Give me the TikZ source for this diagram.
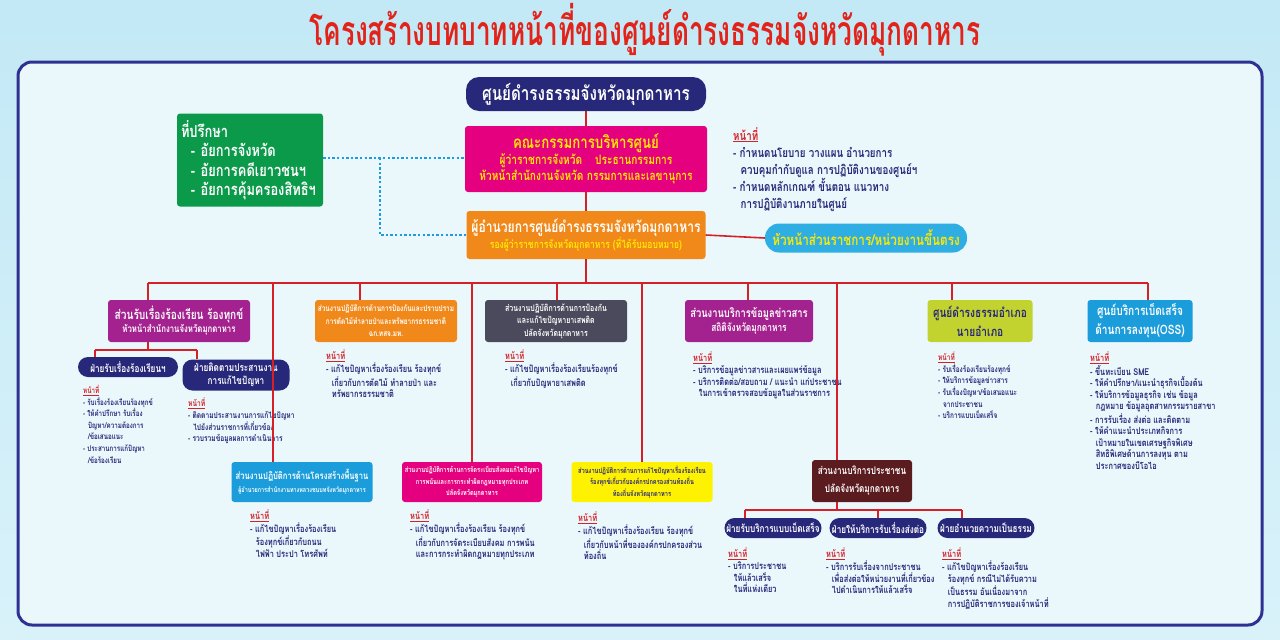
\documentclass[tikz,border=0pt]{standalone}
\usepackage{fontspec}
\setmainfont[Script=Thai,FakeStretch=0.78]{Loma}
\newfontfamily\titlefont[Script=Thai,FakeStretch=0.64]{Loma}
\usepackage{xcolor}
\usepackage{tikz}
\usetikzlibrary{positioning,calc}

\definecolor{navy}{HTML}{27287A}
\definecolor{framecol}{HTML}{2E3192}
\definecolor{lred}{HTML}{D62027}
\definecolor{titlered}{HTML}{E2231A}
\definecolor{lblue}{HTML}{1E9BE0}
\definecolor{mag}{HTML}{E4007F}
\definecolor{purp}{HTML}{A4228F}
\definecolor{orng}{HTML}{F0881A}
\definecolor{slate}{HTML}{4A4A5C}
\definecolor{lime}{HTML}{C2D22E}
\definecolor{oss}{HTML}{1B9DDB}
\definecolor{grn}{HTML}{0B9A4A}
\definecolor{maroon}{HTML}{5B1C20}
\definecolor{ylw}{HTML}{FFF200}
\definecolor{txtylw}{HTML}{FFE800}
\definecolor{cyanpill}{HTML}{2EAEE3}
\definecolor{bgtop}{HTML}{C3E9F6}
\definecolor{bgbot}{HTML}{D9F2FA}
\definecolor{inner}{HTML}{EAF8FC}

\newcommand{\dutyhead}{\textcolor{lred}{\underline{หน้าที่}}}
\newcommand{\ind}{\hspace*{0.6em}}
\newcommand{\fs}[2]{\fontsize{#1}{#2}\selectfont}

\tikzset{
  unit/.style={rounded corners=3pt, align=center, text=white, inner sep=1pt, font=\bfseries},
  pill/.style={rounded corners=10pt, fill=navy, align=center, text=white, inner sep=1pt, font=\bfseries\fs{10.5}{13}},
  duty/.style={anchor=north west, align=left, text=navy, inner sep=0pt, font=\bfseries\fs{9.5}{11.6}},
  titlestyle/.style={font=\titlefont\bfseries\fs{41}{46}},
  redline/.style={draw=lred, line width=1.6pt},
  dotline/.style={draw=lblue, line width=2.4pt, dash pattern=on 2.4pt off 2.2pt},
}

\begin{document}
\begin{tikzpicture}[x=1pt,y=-1pt]
    \useasboundingbox (0,0) rectangle (1280,640);
    \shade[top color=bgtop, bottom color=bgbot] (0,0) rectangle (1280,640);
    \draw[framecol, line width=3pt, fill=inner, rounded corners=14pt] (18,62) rectangle (1262,625);

    % title
    \node[titlestyle, text=titlered] (title) at (645,30) {โครงสร้างบทบาทหน้าที่ของศูนย์ดำรงธรรมจังหวัดมุกดาหาร};

    % top of the chart
    \node[unit, fill=navy, rounded corners=13pt, minimum width=240, minimum height=34, font=\bfseries\fs{19.5}{22}] (top) at (586,94) {ศูนย์ดำรงธรรมจังหวัดมุกดาหาร};
    \node[unit, fill=mag, text=txtylw, minimum width=242, minimum height=66, font=\bfseries\fs{13}{16}] (board) at (586,159)
        {{\fs{17}{19}คณะกรรมการบริหารศูนย์}\\ผู้ว่าราชการจังหวัด\quad ประธานกรรมการ\\หัวหน้าสำนักงานจังหวัด กรรมการและเลขานุการ};
    \node[unit, fill=orng, minimum width=239, minimum height=48, font=\bfseries\fs{11}{14}] (dir) at (586,235)
        {{\fs{15.5}{18}ผู้อำนวยการศูนย์ดำรงธรรมจังหวัดมุกดาหาร}\\\textcolor{txtylw}{รองผู้ว่าราชการจังหวัดมุกดาหาร (ที่ได้รับมอบหมาย)}};
    \node[unit, fill=grn, align=left, text width=138, inner sep=4pt, minimum height=93, font=\bfseries\fs{16.5}{19.5}] (adv) at (250,160)
        {ที่ปรึกษา\\\ind - อัยการจังหวัด\\\ind - อัยการคดีเยาวชนฯ\\\ind - อัยการคุ้มครองสิทธิฯ};
    \node[unit, fill=cyanpill, text=txtylw, rounded corners=14pt, minimum width=202, minimum height=29, font=\bfseries\fs{15}{18}] (head) at (866,238)
        {หัวหน้าส่วนราชการ/หน่วยงานขึ้นตรง};
    \node[duty, font=\bfseries\fs{12.5}{17}] (dtop) at (733,127)
        {\dutyhead\\- กำหนดนโยบาย วางแผน อำนวยการ\\\ind ควบคุมกำกับดูแล การปฏิบัติงานของศูนย์ฯ\\- กำหนดหลักเกณฑ์ ขั้นตอน แนวทาง\\\ind การปฏิบัติงานภายในศูนย์};

    % first row
    \node[unit, fill=purp, minimum width=142, minimum height=42, font=\bfseries\fs{10}{13}] (u1) at (179,321)
        {{\fs{13}{16}ส่วนรับเรื่องร้องเรียน ร้องทุกข์}\\หัวหน้าสำนักงานจังหวัดมุกดาหาร};
    \node[unit, fill=orng, minimum width=142, minimum height=42, font=\bfseries\fs{8.3}{12.5}] (u2) at (386,321)
        {ส่วนงานปฏิบัติการด้านการป้องกันและปราบปราม\\การตัดไม้ทำลายป่าและทรัพยากรธรรมชาติ\\ฉก.ทสจ.มห.};
    \node[unit, fill=slate, minimum width=142, minimum height=42, font=\bfseries\fs{9}{12.5}] (u3) at (556,321)
        {ส่วนงานปฏิบัติการด้านการป้องกัน\\และแก้ไขปัญหายาเสพติด\\ปลัดจังหวัดมุกดาหาร};
    \node[unit, fill=purp, minimum width=128, minimum height=42, font=\bfseries\fs{10.7}{14}] (u4) at (749,321)
        {{\fs{12}{15}ส่วนงานบริการข้อมูลข่าวสาร}\\สถิติจังหวัดมุกดาหาร};
    \node[unit, fill=lime, text=navy, minimum width=105, minimum height=42, font=\bfseries\fs{13}{19}] (u5) at (980,321)
        {ศูนย์ดำรงธรรมอำเภอ\\นายอำเภอ};
    \node[unit, fill=oss, minimum width=105, minimum height=42, font=\bfseries\fs{13}{19}] (u6) at (1140,321)
        {ศูนย์บริการเบ็ดเสร็จ\\ด้านการลงทุน(OSS)};

    % sub units of u1
    \node[pill] (s1a) at (128,367) [minimum width=100, minimum height=20] {ฝ่ายรับเรื่องร้องเรียนฯ};
    \node[pill] (s1b) at (236,375) [minimum width=107, minimum height=31] {ฝ่ายติดตามประสานงาน\\การแก้ไขปัญหา};

    % second row
    \node[unit, fill=oss, minimum width=141, minimum height=40, font=\bfseries\fs{7}{13}] (u7) at (302,482)
        {{\fs{9.8}{13}ส่วนงานปฏิบัติการด้านโครงสร้างพื้นฐาน}\\ผู้อำนวยการสำนักงานทางหลวงชนบทจังหวัดมุกดาหาร};
    \node[unit, fill=mag, minimum width=140, minimum height=40, font=\bfseries\fs{7.3}{11.5}] (u8) at (472,482)
        {ส่วนงานปฏิบัติการด้านการจัดระเบียบสังคมแก้ไขปัญหา\\การพนันและการกระทำผิดกฎหมายทุกประเภท\\ปลัดจังหวัดมุกดาหาร};
    \node[unit, fill=ylw, text=navy, minimum width=141, minimum height=40, font=\bfseries\fs{7.3}{11.5}] (u9) at (642,482)
        {ส่วนงานปฏิบัติการด้านการแก้ไขปัญหาเรื่องร้องเรียน\\ร้องทุกข์เกี่ยวกับองค์กรปกครองส่วนท้องถิ่น\\ท้องถิ่นจังหวัดมุกดาหาร};
    \node[unit, fill=maroon, minimum width=100, minimum height=42, font=\bfseries\fs{10.5}{18}] (u10) at (862,481)
        {ส่วนงานบริการประชาชน\\ปลัดจังหวัดมุกดาหาร};
    \node[pill] (p1) at (773,528) [minimum width=97, minimum height=20] {ฝ่ายรับบริการแบบเบ็ดเสร็จ};
    \node[pill] (p2) at (878,528) [minimum width=97, minimum height=20] {ฝ่ายให้บริการรับเรื่องส่งต่อ};
    \node[pill] (p3) at (986,528) [minimum width=97, minimum height=20] {ฝ่ายอำนวยความเป็นธรรม};

    % duties
    \node[duty, font=\bfseries\fs{8}{11.6}] (d1a) at (83,385) {\dutyhead\\- รับเรื่องร้องเรียนร้องทุกข์\\- ให้คำปรึกษา รับเรื่อง\\\ind ปัญหา/ความต้องการ\\\ind /ข้อเสนอแนะ\\- ประสานการแก้ปัญหา\\\ind /ข้อร้องเรียน};
    \node[duty, font=\bfseries\fs{8.5}{11.6}] (d1b) at (188,398) {\dutyhead\\- ติดตามประสานงานการแก้ไขปัญหา\\\ind ไปยังส่วนราชการที่เกี่ยวข้อง\\- รวบรวมข้อมูลผลการดำเนินการ};
    \node[duty] (d2) at (326,350) {\dutyhead\\- แก้ไขปัญหาเรื่องร้องเรียน ร้องทุกข์\\\ind เกี่ยวกับการตัดไม้ ทำลายป่า และ\\\ind ทรัพยากรธรรมชาติ};
    \node[duty] (d3) at (505,350) {\dutyhead\\- แก้ไขปัญหาเรื่องร้องเรียนร้องทุกข์\\\ind เกี่ยวกับปัญหายาเสพติด};
    \node[duty] (d4) at (693,352) {\dutyhead\\- บริการข้อมูลข่าวสารและเผยแพร่ข้อมูล\\- บริการติดต่อ/สอบถาม / แนะนำ แก่ประชาชน\\\ind ในการเข้าตรวจสอบข้อมูลในส่วนราชการ};
    \node[duty, font=\bfseries\fs{8.3}{11.6}] (d5) at (938,352) {\dutyhead\\- รับเรื่องร้องเรียนร้องทุกข์\\- ให้บริการข้อมูลข่าวสาร\\- รับเรื่องปัญหา/ข้อเสนอแนะ\\\ind จากประชาชน\\- บริการแบบเบ็ดเสร็จ};
    \node[duty] (d6) at (1090,352) {\dutyhead\\- ขึ้นทะเบียน SME\\- ให้คำปรึกษา/แนะนำธุรกิจเบื้องต้น\\- ให้บริการข้อมูลธุรกิจ เช่น ข้อมูล\\\ind กฎหมาย ข้อมูลอุตสาหกรรมรายสาขา\\- การรับเรื่อง ส่งต่อ และติดตาม\\- ให้คำแนะนำประเภทกิจการ\\\ind เป้าหมายในเขตเศรษฐกิจพิเศษ\\\ind สิทธิพิเศษด้านการลงทุน ตาม\\\ind ประกาศของบีโอไอ};
    \node[duty] (d7) at (250,510) {\dutyhead\\- แก้ไขปัญหาเรื่องร้องเรียน\\\ind ร้องทุกข์เกี่ยวกับถนน\\\ind ไฟฟ้า ประปา โทรศัพท์};
    \node[duty] (d8) at (410,510) {\dutyhead\\- แก้ไขปัญหาเรื่องร้องเรียน ร้องทุกข์\\\ind เกี่ยวกับการจัดระเบียบสังคม การพนัน\\\ind และการกระทำผิดกฎหมายทุกประเภท};
    \node[duty] (d9) at (578,512) {\dutyhead\\- แก้ไขปัญหาเรื่องร้องเรียน ร้องทุกข์\\\ind เกี่ยวกับหน้าที่ขององค์กรปกครองส่วน\\\ind ท้องถิ่น};
    \node[duty] (dp1) at (728,548) {\dutyhead\\- บริการประชาชน\\\ind ให้แล้วเสร็จ\\\ind ในที่แห่งเดียว};
    \node[duty] (dp2) at (826,548) {\dutyhead\\- บริการรับเรื่องจากประชาชน\\\ind เพื่อส่งต่อให้หน่วยงานที่เกี่ยวข้อง\\\ind ไปดำเนินการให้แล้วเสร็จ};
    \node[duty] (dp3) at (942,548) {\dutyhead\\- แก้ไขปัญหาเรื่องร้องเรียน\\\ind ร้องทุกข์ กรณีไม่ได้รับความ\\\ind เป็นธรรม อันเนื่องมาจาก\\\ind การปฏิบัติราชการของเจ้าหน้าที่};

    % dotted advice lines
    \coordinate (split) at (380,158);
    \draw[dotline] (adv.east |- split) -- (board.west |- split);
    \draw[dotline] (split) |- (dir.west);

    % red lines
    \coordinate (bus1) at (148,283);
    \coordinate (bus7) at (273,283);
    \coordinate (bus2) at (360,283);
    \coordinate (bus8) at (472,283);
    \coordinate (bus3) at (557,283);
    \coordinate (bus9) at (642,283);
    \coordinate (bus4) at (748,283);
    \coordinate (bus10) at (837,283);
    \coordinate (bus5) at (952,283);
    \coordinate (bus6) at (1148,283);
    \draw[redline] (top) -- (board) -- (dir) -- (dir.south |- bus1);
    \draw[redline] (dir.east) -- (head.west);
    \draw[redline] (bus1) -- (bus6);
    \foreach \u in {1,...,10}
        \draw[redline] (bus\u) -- (bus\u |- u\u.north);

    % below u1
    \coordinate (j1a) at (95,350);
    \coordinate (j1b) at (197,350);
    \draw[redline] (bus1 |- u1.south) -- (bus1 |- j1a);
    \draw[redline] (j1a) -- (j1b);
    \draw[redline] (j1a) -- (j1a |- s1a.north);
    \draw[redline] (j1b) -- (j1b |- s1b.north);

    % below u10
    \coordinate (j10a) at (745,510);
    \coordinate (j10c) at (962,510);
    \draw[redline] (bus10 |- u10.south) -- (bus10 |- j10a);
    \draw[redline] (j10a) -- (j10c);
    \draw[redline] (j10a) -- (j10a |- p1.north);
    \draw[redline] (p2.north) -- (p2.north |- j10a);
    \draw[redline] (j10c) -- (j10c |- p3.north);
\end{tikzpicture}
\end{document}
